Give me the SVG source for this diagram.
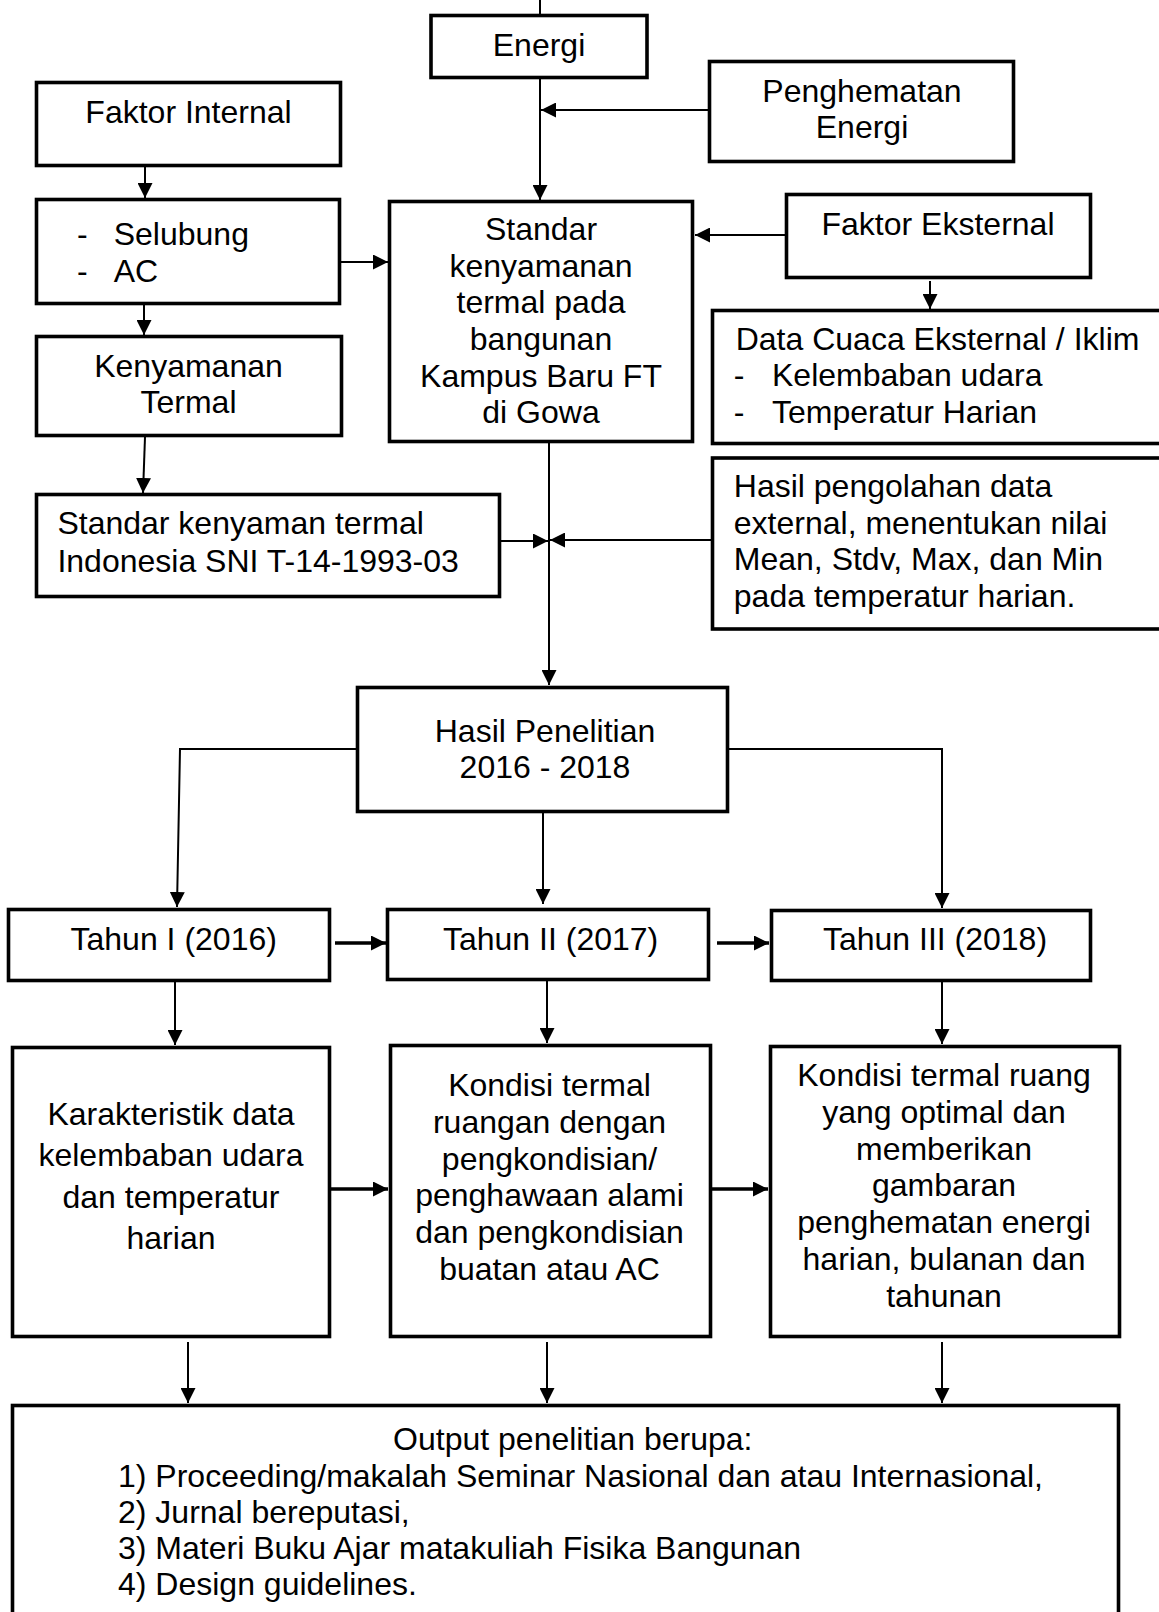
<svg xmlns="http://www.w3.org/2000/svg" width="1159" height="1612" viewBox="0 0 1159 1612">
<style>
.box{fill:#fff;stroke:#000;stroke-width:3.6}
.t{font-family:"Liberation Sans",Arial,sans-serif;font-size:32px;fill:#000}
.c{text-anchor:middle}
.ln{fill:none;stroke:#000;stroke-width:2}
.thick{stroke-width:3.5}
</style>
<defs>
<marker id="ah" markerUnits="userSpaceOnUse" markerWidth="15" markerHeight="15" refX="15" refY="7.5" orient="auto">
<path d="M0,0 L15,7.5 L0,15 z" fill="#000"/>
</marker>
</defs>
<rect width="1159" height="1612" fill="#fff"/>

<g id="connectors">
<path class="ln" d="M540,0 V15"/>
<path class="ln" d="M540,78 V200" marker-end="url(#ah)"/>
<path class="ln" d="M709,110 H541" marker-end="url(#ah)"/>
<path class="ln" d="M145,167 V198" marker-end="url(#ah)"/>
<path class="ln" d="M341,262 H388" marker-end="url(#ah)"/>
<path class="ln" d="M785,235 H695" marker-end="url(#ah)"/>
<path class="ln" d="M930,281 V309" marker-end="url(#ah)"/>
<path class="ln" d="M144,305 V335" marker-end="url(#ah)"/>
<path class="ln" d="M145,437 L143,493" marker-end="url(#ah)"/>
<path class="ln" d="M501,541 H548" marker-end="url(#ah)"/>
<path class="ln" d="M711,540 H550" marker-end="url(#ah)"/>
<path class="ln" d="M549,443 V685" marker-end="url(#ah)"/>
<path class="ln" d="M357,749 H180 L177,907" marker-end="url(#ah)"/>
<path class="ln" d="M543,813 V904" marker-end="url(#ah)"/>
<path class="ln" d="M729,749 H942 V908" marker-end="url(#ah)"/>
<path class="ln thick" d="M335,943 H386" marker-end="url(#ah)"/>
<path class="ln thick" d="M717,943 H769" marker-end="url(#ah)"/>
<path class="ln" d="M175,982 V1045" marker-end="url(#ah)"/>
<path class="ln" d="M547,980 V1043" marker-end="url(#ah)"/>
<path class="ln" d="M942,982 V1044" marker-end="url(#ah)"/>
<path class="ln thick" d="M331,1189 H388" marker-end="url(#ah)"/>
<path class="ln thick" d="M712,1189 H768" marker-end="url(#ah)"/>
<path class="ln" d="M188,1342 V1403" marker-end="url(#ah)"/>
<path class="ln" d="M547,1342 V1403" marker-end="url(#ah)"/>
<path class="ln" d="M942,1342 V1403" marker-end="url(#ah)"/>
</g>

<g id="energi">
<rect class="box" x="431" y="15.5" width="216" height="62"/>
<text class="t c" x="539" y="56">Energi</text>
</g>
<g id="penghematan">
<rect class="box" x="709.5" y="61.5" width="304" height="100"/>
<text class="t c" x="862" y="102">Penghematan</text>
<text class="t c" x="862" y="138">Energi</text>
</g>
<g id="faktor-internal">
<rect class="box" x="36.5" y="82.5" width="304" height="83"/>
<text class="t c" x="188.5" y="122.7">Faktor Internal</text>
</g>
<g id="selubung">
<rect class="box" x="36.5" y="199.5" width="303" height="104"/>
<text class="t" x="77" y="245">-</text>
<text class="t" x="113.7" y="245">Selubung</text>
<text class="t" x="77" y="282">-</text>
<text class="t" x="113.7" y="282">AC</text>
</g>
<g id="standar">
<rect class="box" x="389.5" y="201.5" width="303" height="240"/>
<text class="t c" x="541" y="240">Standar</text>
<text class="t c" x="541" y="276.7">kenyamanan</text>
<text class="t c" x="541" y="313.3">termal pada</text>
<text class="t c" x="541" y="350">bangunan</text>
<text class="t c" x="541" y="386.7">Kampus Baru FT</text>
<text class="t c" x="541" y="423.3">di Gowa</text>
</g>
<g id="faktor-eksternal">
<rect class="box" x="786.5" y="194.5" width="304" height="83"/>
<text class="t c" x="938" y="235">Faktor Eksternal</text>
</g>
<g id="data-cuaca">
<rect class="box" x="712.5" y="310.5" width="500" height="133"/>
<text class="t" x="735.7" y="350">Data Cuaca Eksternal / Iklim</text>
<text class="t" x="733.8" y="386">-</text>
<text class="t" x="772" y="386">Kelembaban udara</text>
<text class="t" x="733.8" y="422.7">-</text>
<text class="t" x="772" y="422.7">Temperatur Harian</text>
</g>
<g id="hasil-pengolahan">
<rect class="box" x="712.5" y="458" width="500" height="171"/>
<text class="t" x="733.8" y="497">Hasil pengolahan data</text>
<text class="t" x="733.8" y="533.7">external, menentukan nilai</text>
<text class="t" x="733.8" y="570.4">Mean, Stdv, Max, dan Min</text>
<text class="t" x="733.8" y="607">pada temperatur harian.</text>
</g>
<g id="kenyamanan-termal">
<rect class="box" x="36.5" y="336.5" width="305" height="99"/>
<text class="t c" x="188.5" y="376.7">Kenyamanan</text>
<text class="t c" x="188.5" y="413.3">Termal</text>
</g>
<g id="standar-sni">
<rect class="box" x="36.5" y="494.5" width="463" height="102"/>
<text class="t" x="57.4" y="534">Standar kenyaman termal</text>
<text class="t" x="57.4" y="571.7">Indonesia SNI T-14-1993-03</text>
</g>
<g id="hasil-penelitian">
<rect class="box" x="357.5" y="687.5" width="370" height="124"/>
<text class="t c" x="545" y="741.7">Hasil Penelitian</text>
<text class="t c" x="545" y="778.3">2016 - 2018</text>
</g>
<g id="tahun-1">
<rect class="box" x="8.5" y="909.5" width="321" height="71"/>
<text class="t c" x="173.7" y="950">Tahun I (2016)</text>
</g>
<g id="tahun-2">
<rect class="box" x="387.5" y="909.5" width="321" height="70"/>
<text class="t c" x="550.6" y="950">Tahun II (2017)</text>
</g>
<g id="tahun-3">
<rect class="box" x="771.5" y="910.5" width="319" height="70"/>
<text class="t c" x="935" y="950">Tahun III (2018)</text>
</g>
<g id="karakteristik">
<rect class="box" x="12.5" y="1047.5" width="317" height="289"/>
<text class="t c" x="171" y="1125">Karakteristik data</text>
<text class="t c" x="171" y="1166.3">kelembaban udara</text>
<text class="t c" x="171" y="1207.6">dan temperatur</text>
<text class="t c" x="171" y="1248.9">harian</text>
</g>
<g id="kondisi-2017">
<rect class="box" x="390.5" y="1045.5" width="320" height="291"/>
<text class="t c" x="549.5" y="1096">Kondisi termal</text>
<text class="t c" x="549.5" y="1132.8">ruangan dengan</text>
<text class="t c" x="549.5" y="1169.6">pengkondisian/</text>
<text class="t c" x="549.5" y="1206.4">penghawaan alami</text>
<text class="t c" x="549.5" y="1243.2">dan pengkondisian</text>
<text class="t c" x="549.5" y="1280">buatan atau AC</text>
</g>
<g id="kondisi-2018">
<rect class="box" x="770.5" y="1046.5" width="349" height="290"/>
<text class="t c" x="944" y="1086">Kondisi termal ruang</text>
<text class="t c" x="944" y="1122.8">yang optimal dan</text>
<text class="t c" x="944" y="1159.6">memberikan</text>
<text class="t c" x="944" y="1196.4">gambaran</text>
<text class="t c" x="944" y="1233.2">penghematan energi</text>
<text class="t c" x="944" y="1270">harian, bulanan dan</text>
<text class="t c" x="944" y="1306.8">tahunan</text>
</g>
<g id="output">
<rect class="box" x="12.5" y="1405.5" width="1106" height="300"/>
<text class="t c" x="572.8" y="1450">Output penelitian berupa:</text>
<text class="t" x="118" y="1486.7">1) Proceeding/makalah Seminar Nasional dan atau Internasional,</text>
<text class="t" x="118" y="1523.3">2) Jurnal bereputasi,</text>
<text class="t" x="118" y="1559.3">3) Materi Buku Ajar matakuliah Fisika Bangunan</text>
<text class="t" x="118" y="1595">4) Design guidelines.</text>
</g>
</svg>
